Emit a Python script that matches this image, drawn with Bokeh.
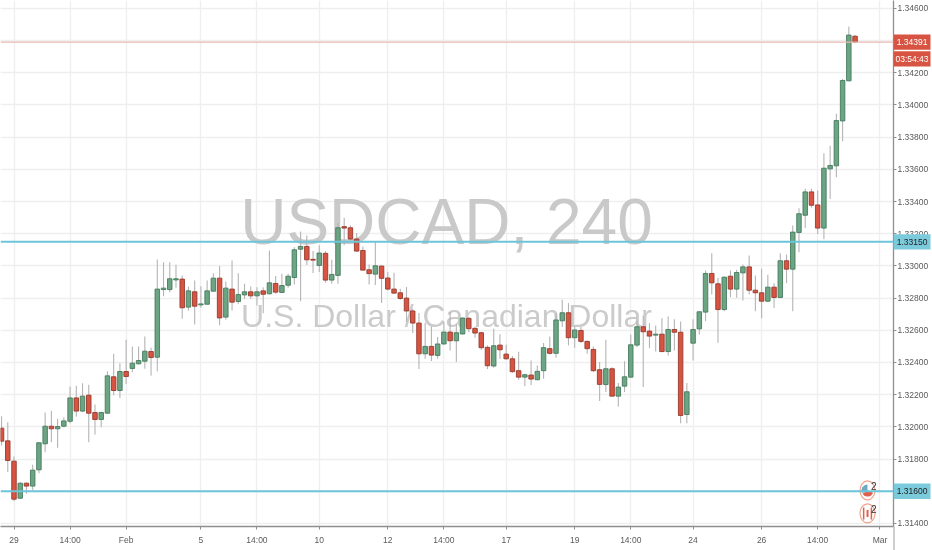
from bokeh.plotting import figure, ColumnDataSource
from bokeh.models import FixedTicker, Label, Span, Range1d
from bokeh.core.properties import value
from bokeh.embed import file_html
from bokeh.resources import INLINE

candle_index = list(range(-2, 136))
open_ = [
1.31992,1.31913,1.31787,1.31557,1.31650,1.31632,1.31733,1.31895,1.32004,1.31988,
1.32004,1.32035,1.32180,1.32098,1.32197,1.32089,1.32046,1.32085,1.32311,1.32226,
1.32344,1.32363,1.32392,1.32408,1.32468,1.32433,1.32853,1.32853,1.32913,1.32918,
1.32744,1.32839,1.32758,1.32762,1.32843,1.32924,1.32682,1.32856,1.32779,1.32820,
1.32839,1.32814,1.32845,1.32827,1.32891,1.32835,1.32880,1.32928,1.33104,1.33121,
1.33041,1.33003,1.33078,1.32912,1.32941,1.33244,1.33237,1.33167,1.33096,1.32976,
1.32949,1.32999,1.32925,1.32856,1.32833,1.32800,1.32720,1.32645,1.32454,1.32500,
1.32444,1.32515,1.32589,1.32535,1.32577,1.32674,1.32612,1.32585,1.32494,1.32378,
1.32508,1.32452,1.32423,1.32349,1.32309,1.32322,1.32293,1.32349,1.32486,1.32457,
1.32659,1.32709,1.32554,1.32599,1.32531,1.32481,1.32355,1.32263,1.32361,1.32191,
1.32253,1.32309,1.32508,1.32622,1.32595,1.32570,1.32576,1.32468,1.32605,1.32588,
1.32077,1.32520,1.32609,1.32713,1.32953,1.32889,1.32729,1.32936,1.32856,1.32957,
1.32994,1.32849,1.32833,1.32781,1.32868,1.32804,1.33032,1.32980,1.33208,1.33315,
1.33460,1.33379,1.33235,1.33603,1.33622,1.33901,1.34150,1.34427]
high = [
1.32066,1.32029,1.31816,1.31656,1.31656,1.31764,1.31905,1.32089,1.32100,1.32050,
1.32060,1.32251,1.32255,1.32271,1.32261,1.32139,1.32095,1.32346,1.32454,1.32396,
1.32541,1.32499,1.32499,1.32561,1.32491,1.33040,1.33023,1.33023,1.33007,1.32940,
1.32872,1.32909,1.32874,1.32909,1.32955,1.33000,1.32903,1.33034,1.32955,1.32889,
1.32872,1.32868,1.32868,1.33096,1.32938,1.32951,1.32951,1.33116,1.33214,1.33189,
1.33092,1.33128,1.33092,1.33038,1.33266,1.33299,1.33252,1.33204,1.33121,1.33009,
1.33148,1.33003,1.32962,1.32958,1.32858,1.32869,1.32734,1.32707,1.32647,1.32624,
1.32558,1.32651,1.32713,1.32641,1.32682,1.32682,1.32624,1.32589,1.32506,1.32610,
1.32575,1.32510,1.32440,1.32467,1.32330,1.32413,1.32382,1.32521,1.32562,1.32703,
1.32790,1.32769,1.32624,1.32620,1.32537,1.32500,1.32403,1.32541,1.32371,1.32272,
1.32408,1.32574,1.32661,1.32692,1.32644,1.32630,1.32675,1.32686,1.32669,1.32655,
1.32272,1.32669,1.32719,1.32972,1.33079,1.32926,1.32934,1.32972,1.32976,1.33009,
1.33065,1.32941,1.32982,1.32945,1.32893,1.33079,1.33071,1.33251,1.33359,1.33479,
1.33479,1.33469,1.33700,1.33746,1.33945,1.34162,1.34487,1.34434]
low = [
1.31884,1.31719,1.31538,1.31553,1.31584,1.31605,1.31712,1.31843,1.31905,1.31870,
1.31998,1.32023,1.32064,1.32091,1.31905,1.31953,1.31998,1.32085,1.32197,1.32180,
1.32267,1.32340,1.32387,1.32361,1.32317,1.32346,1.32812,1.32837,1.32864,1.32671,
1.32723,1.32636,1.32740,1.32760,1.32843,1.32632,1.32665,1.32723,1.32764,1.32795,
1.32795,1.32754,1.32706,1.32822,1.32827,1.32831,1.32864,1.32885,1.32781,1.33005,
1.32956,1.32962,1.32896,1.32889,1.32889,1.33128,1.33159,1.33086,1.32972,1.32885,
1.32881,1.32769,1.32848,1.32827,1.32790,1.32651,1.32583,1.32359,1.32423,1.32409,
1.32423,1.32512,1.32475,1.32403,1.32575,1.32589,1.32554,1.32479,1.32359,1.32367,
1.32423,1.32417,1.32336,1.32293,1.32252,1.32260,1.32289,1.32299,1.32450,1.32430,
1.32620,1.32506,1.32492,1.32521,1.32454,1.32341,1.32160,1.32216,1.32189,1.32127,
1.32216,1.32305,1.32495,1.32247,1.32489,1.32468,1.32464,1.32444,1.32475,1.32023,
1.32023,1.32412,1.32574,1.32657,1.32823,1.32522,1.32719,1.32806,1.32802,1.32785,
1.32823,1.32719,1.32675,1.32775,1.32738,1.32802,1.32893,1.32719,1.33085,1.33235,
1.33361,1.33199,1.33166,1.33415,1.33551,1.33775,1.34148,1.34384]
close = [
1.31911,1.31791,1.31551,1.31650,1.31632,1.31731,1.31901,1.32004,1.31988,1.32002,
1.32037,1.32180,1.32098,1.32191,1.32085,1.32046,1.32089,1.32317,1.32226,1.32344,
1.32313,1.32396,1.32412,1.32470,1.32431,1.32856,1.32862,1.32920,1.32920,1.32740,
1.32845,1.32750,1.32764,1.32845,1.32924,1.32677,1.32862,1.32775,1.32822,1.32839,
1.32814,1.32839,1.32824,1.32895,1.32837,1.32878,1.32936,1.33100,1.33121,1.33038,
1.33036,1.33080,1.32912,1.32947,1.33237,1.33235,1.33167,1.33092,1.32974,1.32952,
1.33001,1.32923,1.32856,1.32831,1.32798,1.32720,1.32645,1.32454,1.32500,1.32446,
1.32515,1.32589,1.32535,1.32585,1.32676,1.32610,1.32583,1.32492,1.32380,1.32504,
1.32479,1.32423,1.32343,1.32309,1.32324,1.32297,1.32345,1.32492,1.32457,1.32664,
1.32709,1.32554,1.32602,1.32531,1.32486,1.32349,1.32264,1.32361,1.32191,1.32247,
1.32311,1.32510,1.32622,1.32591,1.32564,1.32576,1.32468,1.32605,1.32588,1.32071,
1.32218,1.32605,1.32715,1.32953,1.32895,1.32729,1.32930,1.32856,1.32959,1.32994,
1.32849,1.32833,1.32781,1.32868,1.32804,1.33032,1.32980,1.33210,1.33324,1.33460,
1.33377,1.33235,1.33607,1.33624,1.33903,1.34152,1.34434,1.34391]

date_ticks = [0, 9, 18, 30, 39, 49, 60, 69, 79, 90, 99, 109, 120, 129, 139]
date_labels = ["29", "14:00", "Feb", "5", "14:00", "10", "12", "14:00", "17", "19",
               "14:00", "24", "26", "14:00", "Mar"]
price_ticks = [1.314, 1.316, 1.318, 1.320, 1.322, 1.324, 1.326, 1.328, 1.330,
               1.332, 1.334, 1.336, 1.338, 1.340, 1.342, 1.344, 1.346]
support_levels = [1.3315, 1.316]
last_price = 1.34391
countdown = "03:54:43"
countdown_y = 1.34286
event_x = [137, 137]
event_y = [1.31605, 1.31462]
event_counts = ["2", "2"]

UP, DOWN = "#6ba583", "#d75442"
UP_E, DOWN_E = "#457a5e", "#953a2c"
AX = "#8f8f8f"
TXT = "#5a5a5a"
SANS = "Liberation Sans"
CYAN_TAG = "#7ccbdd"

p = figure(width=932, height=550, output_backend="svg", toolbar_location=None,
           x_range=Range1d(-2.167, 141.17), y_range=Range1d(1.31381, 1.34649),
           y_axis_location="right", min_border_left=0, min_border_top=0,
           min_border_right=39, min_border_bottom=24,
           frame_width=893, frame_height=526,
           styles={"position": "fixed", "left": "0px", "top": "0px"})
p.outline_line_color = None
p.background_fill_color = "white"

p.xgrid.ticker = FixedTicker(ticks=date_ticks)
p.ygrid.ticker = FixedTicker(ticks=price_ticks)
for g in (p.xgrid, p.ygrid):
    g.grid_line_color = "#efefef"
    g.grid_line_width = 1.4

xa, ya = p.xaxis[0], p.yaxis[0]
xa.ticker = FixedTicker(ticks=date_ticks)
xa.major_label_overrides = {t: l for t, l in zip(date_ticks, date_labels)}
ya.ticker = FixedTicker(ticks=price_ticks)
ya.major_label_overrides = {t: f"{t:.5f}" for t in price_ticks}
for a in (xa, ya):
    a.axis_line_color = AX
    a.axis_line_width = 1.3
    a.major_tick_line_color = AX
    a.major_tick_out = 3
    a.major_tick_in = 0
    a.minor_tick_out = 0
    a.minor_tick_in = 0
    a.major_label_text_color = TXT
    a.major_label_text_font = SANS
    a.major_label_text_font_size = "8.5px"
ya.major_label_standoff = 1
xa.major_label_standoff = 5

wm1 = Label(x=446, y=221, x_units="canvas", y_units="canvas", text="USDCAD, 240",
            text_font=SANS, text_font_size="64px", text_color="#c9c9c9",
            text_align="center", text_baseline="middle", level="underlay")
wm2 = Label(x=446, y=315, x_units="canvas", y_units="canvas", text="U.S. Dollar / Canadian Dollar",
            text_font=SANS, text_font_size="32px", text_color="#cbcbcb",
            text_align="center", text_baseline="middle", level="underlay")
p.add_layout(wm1)
p.add_layout(wm2)

colors = [UP if c >= o else DOWN for o, c in zip(open_, close)]
edges = [UP_E if c >= o else DOWN_E for o, c in zip(open_, close)]
src = ColumnDataSource(dict(x=candle_index, o=open_, h=high, l=low, c=close, fill=colors, edge=edges))

p.segment("x", "h", "x", "l", source=src, line_color="#b4b4b4", line_width=1.1)
p.vbar(x="x", top="o", bottom="c", width=0.72, source=src, fill_color="fill",
       line_color="edge", line_width=0.9)

for lv in support_levels:
    p.add_layout(Span(location=lv, dimension="width", line_color="#6cc5d8", line_width=2))
p.add_layout(Span(location=last_price, dimension="width", line_color="#e9b8b2", line_width=1.2))

# event bubbles
p.ellipse(event_x, event_y, width=15, height=19, width_units="screen", height_units="screen",
          fill_color="white", line_color="#f0a58c", line_width=1.2)
p.wedge(event_x[:1], event_y[:1], radius=6, radius_units="screen", start_angle=1.57, end_angle=3.6,
        fill_color="#6fa9c9", line_color=None)
p.wedge(event_x[:1], event_y[:1], radius=6, radius_units="screen", start_angle=3.7, end_angle=5.9,
        fill_color="#e0604c", line_color=None)
p.rect([event_x[1] - 0.62, event_x[1], event_x[1] + 0.62], [event_y[1]] * 3, width=[1.5, 2, 1.5],
       height=[12, 7, 12], width_units="screen", height_units="screen",
       fill_color="#e0604c", line_color=None)
p.text([x + 1.0 for x in event_x], [y + 0.00028 for y in event_y], text=event_counts,
       text_font=value(SANS), text_font_size="10px", text_color="#333333",
       text_align="center", text_baseline="middle")

# price tags: a second transparent figure laid over the price scale, on the same price mapping
q = figure(width=39, height=550, output_backend="svg", toolbar_location=None,
           x_range=Range1d(0, 39), y_range=Range1d(1.31232, 1.34649),
           x_axis_type=None, y_axis_type=None,
           min_border=0, min_border_left=0, min_border_right=0, min_border_top=0, min_border_bottom=0,
           styles={"position": "fixed", "left": "893px", "top": "0px"})
q.grid.visible = False
q.outline_line_color = None
q.background_fill_alpha = 0
q.border_fill_alpha = 0
tag_y = [support_levels[0], support_levels[1], last_price, countdown_y]
tag_text = [f"{support_levels[0]:.5f}", f"{support_levels[1]:.5f}", f"{last_price:.5f}", countdown]
tag_fill = [CYAN_TAG, CYAN_TAG, DOWN, DOWN]
tag_color = ["#222222", "#222222", "white", "white"]
q.segment([0.3], [1.31232], [0.3], [1.31381], line_color=AX, line_width=1.3)
q.hbar(y=tag_y, left=0, right=37, height=0.00095, fill_color=tag_fill, line_color=None)
q.text([18.5] * 4, tag_y, text=tag_text, text_font=value(SANS), text_font_size="8.5px",
       text_color=tag_color, text_align="center", text_baseline="middle")

open("out.html", "w").write(file_html([p, q], INLINE))
